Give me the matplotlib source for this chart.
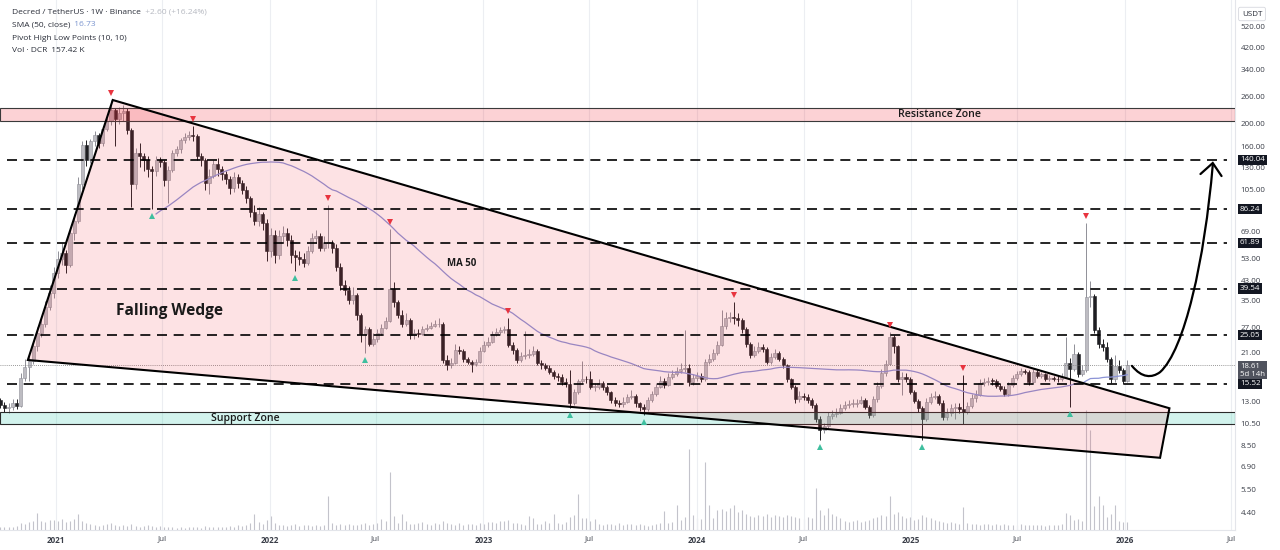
import matplotlib
matplotlib.use("Agg")
import matplotlib.pyplot as plt
import matplotlib.dates as mdates
import matplotlib.transforms as mtransforms
from matplotlib.patches import Polygon, PathPatch
from matplotlib.path import Path
import numpy as np
import pandas as pd

plt.rcParams['font.family'] = ['Open Sans', 'DejaVu Sans']

# ---- weekly DCR/USDT candles ----
# (first 13 weeks sit left of the visible window, they feed the SMA start)
first_week = "2020-07-13"
first_open = 13.0
closes = [
    13.2, 14.0, 15.5, 17.5, 19.0, 17.5, 16.5, 15.0, 14.5, 13.8,
    13.2, 12.6, 12.2,
    12.4, 12.9, 12.5, 16.5, 18.3, 19.4, 22.5, 25.5, 28.0, 33.0,
    38.0, 46.0, 53.0, 56.0, 50.0, 68.0, 77.0, 110, 162, 140,
    168, 178, 165, 190, 205, 228, 210, 222, 226, 188,
    110, 150, 145, 140, 128, 125, 140, 137, 115, 127,
    150, 155, 170, 175, 178, 177, 146, 140, 112, 120,
    135, 128, 122, 116, 106, 118, 112, 104, 96, 84,
    77, 82, 75, 57, 67, 55, 66, 68, 64, 55,
    54, 53, 51, 57, 65, 66, 59, 62, 62, 59,
    49, 41, 39, 35.5, 37, 30.5, 25.2, 26.5, 23, 24,
    25.6, 26.8, 28.8, 39.5, 34.5, 30.5, 28, 29, 25, 25.5,
    25.3, 26.5, 26.8, 27.5, 27.8, 28, 19.6, 18.7, 19, 21.6,
    21.4, 19.8, 19.2, 18.8, 19.3, 21.5, 22.6, 23.5, 25.2, 25.8,
    26.2, 26.5, 22.7, 21.6, 19.6, 20.3, 20.5, 20.8, 21.5, 19.0,
    18.6, 18.2, 17.5, 16.8, 16.6, 15.8, 15.5, 12.8, 14.3, 15.9,
    16.3, 16.2, 15.0, 15.0, 15.7, 15.0, 14.3, 13.2, 12.9, 12.7,
    13.0, 13.6, 13.8, 12.8, 12.3, 12.1, 13.2, 14.0, 15.1, 16.0,
    15.4, 16.6, 17.0, 17.6, 18.0, 18.2, 15.8, 16.4, 16.8, 16.2,
    19.2, 19.8, 21.0, 22.8, 27.5, 29.5, 30.0, 29.5, 29.0, 26.5,
    23.0, 20.6, 21.5, 22.3, 21.8, 19.2, 20.2, 21.0, 19.8, 18.6,
    16.2, 15.1, 13.3, 13.8, 13.6, 13.2, 12.6, 11.0, 9.9, 10.2,
    11.3, 11.5, 11.7, 12.2, 12.6, 12.7, 12.7, 12.9, 13.2, 12.4,
    11.4, 13.3, 15.2, 17.2, 18.9, 24.5, 22.4, 16.2, 16.6, 16.3,
    14.3, 13.1, 12.2, 11.0, 13.0, 13.6, 13.8, 12.9, 11.2, 11.6,
    12.2, 12.3, 12.1, 11.8, 12.5, 13.5, 13.9, 15.6, 15.8, 16.0,
    15.9, 15.2, 14.8, 14.0, 15.3, 16.4, 17.0, 17.6, 17.5, 15.8,
    17.4, 16.8, 17.0, 16.2, 16.4, 16.3, 16.2, 16.6, 19.0, 18.0,
    20.8, 17.0, 17.8, 36.5, 36.8, 26.3, 22.9, 22.3, 19.8, 16.2,
    18.5, 17.8, 16.01, 18.61,
]
highs = [
    13.8, 14.6, 16.2, 18.3, 20.0, 19.5, 17.8, 16.8, 15.6, 14.9,
    14.2, 13.5, 13.0,
    12.8, 13.4, 13.3, 17.2, 19.8, 21.0, 23.5, 27, 30, 35,
    41, 49, 57, 62, 58, 70, 82, 118, 168, 170,
    172, 185, 182, 195, 212, 252, 232, 235, 240, 232,
    192, 158, 165, 150, 146, 132, 146, 144, 140, 132,
    154, 160, 174, 182, 185, 196, 180, 150, 143, 128,
    140, 142, 132, 126, 120, 124, 122, 115, 108, 98,
    90, 88, 84, 78, 72, 70, 70, 73, 72, 67,
    58, 57, 56, 60, 68, 70, 68, 66, 90, 64,
    61, 51, 43, 40.5, 40, 38, 31, 27.5, 27, 25.5,
    26.5, 27.8, 30, 71, 42, 35.5, 32, 31, 29.5, 26.5,
    26.5, 27.5, 28, 28.5, 29, 29.5, 28.5, 20.5, 20, 23,
    22.5, 21.8, 20.2, 19.6, 19.8, 22.2, 23.6, 24.5, 26, 26.8,
    27.2, 27.5, 29.5, 23.5, 22, 21.2, 26, 21.8, 22.5, 21.8,
    19.6, 19.0, 18.6, 17.8, 17.3, 17.0, 16.4, 17.8, 14.8, 16.3,
    19.5, 16.8, 17.6, 15.6, 16.3, 16.0, 15.3, 14.5, 13.6, 13.2,
    13.6, 14.0, 14.6, 14.0, 13.0, 12.7, 13.6, 14.5, 15.6, 16.8,
    16.4, 17.2, 17.8, 18.3, 19.0, 26.3, 18.8, 17.0, 17.5, 17.3,
    19.8, 20.8, 21.8, 23.6, 32.0, 31.5, 31.5, 34.5, 31.0, 29.5,
    27.0, 23.5, 22.4, 23.4, 23.0, 22.2, 21.0, 21.8, 21.4, 20.2,
    18.9, 16.5, 15.4, 14.4, 14.2, 14.0, 13.5, 12.8, 11.3, 10.6,
    11.8, 12.0, 12.2, 12.7, 13.1, 13.2, 13.3, 13.4, 13.7, 13.5,
    12.6, 13.8, 15.8, 17.9, 19.6, 25.7, 25.0, 22.8, 17.4, 17.2,
    16.6, 14.6, 13.4, 12.5, 13.5, 14.2, 14.4, 14.1, 13.2, 12.2,
    12.7, 12.9, 12.8, 16.9, 13.0, 14.0, 14.6, 16.2, 16.4, 16.6,
    16.5, 16.3, 15.6, 15.2, 15.8, 16.9, 17.6, 18.2, 18.0, 17.8,
    17.9, 17.8, 17.5, 17.3, 16.9, 16.8, 16.7, 17.2, 24.5, 20.0,
    23.0, 21.2, 18.6, 75.5, 42.5, 37.5, 27.0, 24.0, 23.5, 20.2,
    20.5, 19.6, 18.2, 19.6,
]
lows = [
    12.6, 13.0, 13.8, 15.3, 17.2, 17.0, 16.0, 14.6, 14.0, 13.3,
    12.8, 12.2, 11.8,
    11.6, 12.0, 12.1, 12.3, 15.9, 16.0, 18.8, 21.5, 24.5, 27,
    32, 36, 44, 50, 46, 49, 64, 75, 105, 132,
    136, 160, 158, 160, 185, 198, 160, 200, 205, 180,
    88, 105, 130, 126, 118, 86, 120, 130, 108, 92,
    124, 146, 150, 165, 170, 168, 140, 132, 104, 100,
    117, 120, 115, 110, 100, 102, 106, 100, 92, 80,
    74, 73, 70, 52, 54, 51, 53, 62, 60, 51,
    47, 50, 49, 50, 56, 62, 57, 57, 59, 56,
    47, 39, 37, 34, 34, 29, 23.5, 21, 22.5, 22.5,
    23.5, 25, 26.5, 28.5, 33, 29.5, 27, 27.5, 24, 24,
    24.5, 25, 26, 26.5, 27, 27, 19, 17.8, 18.2, 18.8,
    20.8, 19.3, 18.8, 17.5, 18.4, 19.0, 21.2, 22.2, 23.2, 24.8,
    25.3, 25.6, 22.2, 20.8, 19, 19.2, 19.8, 19.9, 20.3, 18.6,
    18.0, 17.7, 17.0, 16.3, 16.0, 15.3, 15.0, 12.2, 12.6, 14.0,
    15.6, 15.7, 14.7, 14.5, 14.8, 14.6, 13.9, 12.9, 12.5, 12.3,
    12.4, 12.8, 13.3, 12.4, 11.9, 11.4, 11.9, 13.0, 13.8, 14.9,
    14.9, 15.2, 16.3, 16.7, 17.2, 17.4, 15.2, 15.3, 16.0, 15.8,
    16.0, 18.8, 19.4, 20.6, 22.5, 26.5, 28.5, 27.8, 27.5, 25.5,
    22.2, 20.0, 20.2, 21.0, 21.2, 18.8, 18.9, 19.8, 19.4, 18.2,
    15.8, 14.7, 12.9, 13.0, 13.2, 12.9, 12.2, 10.7, 8.9, 9.6,
    10.0, 11.0, 11.2, 11.5, 12.0, 12.2, 12.3, 12.4, 12.7, 12.1,
    11.1, 11.2, 13.0, 14.9, 16.8, 18.6, 21.0, 15.8, 13.9, 15.8,
    14.0, 12.8, 11.8, 8.9, 10.8, 12.7, 13.3, 12.6, 10.9, 10.9,
    11.3, 11.0, 11.7, 10.5, 11.5, 12.2, 13.0, 13.7, 15.2, 15.4,
    15.4, 14.9, 14.4, 13.7, 13.8, 15.0, 16.1, 16.8, 17.0, 15.4,
    15.6, 16.5, 16.5, 15.9, 15.9, 15.9, 15.8, 15.9, 16.4, 12.4,
    17.6, 16.6, 16.8, 17.4, 33.0, 25.5, 22.0, 21.5, 19.2, 15.6,
    15.8, 17.2, 15.5, 15.8,
]
volume_k = [
    90, 110, 140, 180, 200, 150, 120, 100, 90, 80,
    70, 60, 70,
    60, 70, 90, 150, 130, 160, 180, 340, 190, 170,
    200, 210, 180, 220, 170, 190, 230, 320, 190, 150,
    120, 110, 90, 100, 130, 140, 110, 90, 100, 80,
    120, 80, 70, 90, 100, 90, 70, 80, 60, 70,
    60, 50, 60, 50, 60, 70, 60, 50, 80, 70,
    60, 60, 70, 60, 80, 70, 100, 90, 110, 140,
    320, 160, 120, 200, 280, 150, 110, 100, 90, 100,
    120, 90, 100, 110, 80, 100, 90, 110, 680, 140,
    110, 130, 100, 120, 100, 110, 130, 140, 110, 120,
    150, 220, 180, 1160, 280, 150, 320, 180, 130, 120,
    140, 160, 120, 110, 140, 130, 180, 150, 120, 110,
    140, 100, 120, 130, 110, 150, 130, 170, 160, 150,
    190, 180, 200, 150, 140, 120, 110, 280, 240, 130,
    120, 180, 150, 320, 140, 130, 170, 260, 300, 720,
    240, 250, 190, 230, 120, 110, 130, 120, 110, 140,
    110, 120, 130, 100, 120, 110, 90, 100, 130, 150,
    380, 140, 160, 500, 200, 260, 1620, 300, 240, 220,
    1360, 500, 240, 400, 420, 380, 440, 500, 360, 400,
    320, 280, 260, 300, 280, 320, 260, 300, 280, 260,
    300, 280, 260, 240, 220, 260, 240, 840, 400, 300,
    440, 320, 280, 240, 180, 160, 180, 200, 160, 180,
    200, 240, 260, 300, 280, 680, 320, 360, 280, 240,
    260, 200, 220, 300, 260, 240, 200, 180, 160, 140,
    160, 140, 120, 460, 140, 120, 130, 110, 120, 130,
    110, 120, 100, 120, 110, 100, 110, 120, 100, 110,
    100, 110, 100, 90, 110, 100, 100, 120, 340, 300,
    200, 220, 180, 2400, 2000, 480, 680, 500, 260, 320,
    500, 180, 160, 157.42,
]

pivot_high_idx = [38, 58, 91, 106, 135, 190, 228, 246, 276]
pivot_low_idx = [48, 83, 100, 150, 168, 211, 236, 272]

# ---- drawings ----
key_levels = [140.04, 86.24, 61.89, 39.54, 25.05, 15.52]
resistance_zone = (205.0, 233.0)
support_zone = (10.45, 11.76)
wedge_dates = ["2020-11-14", "2021-04-08", "2026-03-18", "2026-03-02"]
wedge_prices = [19.6, 252.0, 12.2, 7.5]
arrow_dates = ["2026-01-13", "2026-01-30", "2026-02-16", "2026-03-02",
               "2026-04-13", "2026-05-17", "2026-05-31"]
arrow_prices = [18.5, 16.4, 16.4, 17.4, 21.6, 52.3, 133.0]
head_dates = ["2026-05-10", "2026-05-31", "2026-06-15"]
head_prices = [121.8, 135.7, 119.4]

# scale labels left visible by the price tags
price_ticks = [520, 420, 340, 260, 200, 160, 130, 105, 69, 53, 43,
               35, 27, 21, 13, 10.5, 8.5, 6.9, 5.5, 4.4]
last_close = 18.61
sma_last = 16.73

UP_BODY, UP_EDGE, DOWN = "#bdbcc2", "#8f8f97", "#1e1e22"
TXT = "#2a2e39"

# ---------------------------------------------------------------
fig = plt.figure(figsize=(12.8, 5.5), dpi=100)
ax = fig.add_axes([0, 1 - 530 / 550, 1235 / 1280, 530 / 550])
ax.set_yscale("log")

dates = pd.date_range(first_week, periods=len(closes), freq="7D")
x = mdates.date2num(dates)
c = np.array(closes, dtype=float)
o = np.r_[first_open, c[:-1]]
h = np.array(highs, dtype=float)
lo = np.array(lows, dtype=float)
up = c >= o
b_lo = np.minimum(o, c)
b_hi = np.maximum(np.maximum(o, c), b_lo * 1.008)

# volume overlay behind the price pane
axv = ax.twinx()
axv.set_zorder(ax.get_zorder() - 1)
ax.patch.set_visible(False)
axv.vlines(x, 0, volume_k, color="#c3c3cb", lw=0.8)
axv.set_ylim(0, 530 * 20)
axv.set_yticks([])
for s in axv.spines.values():
    s.set_visible(False)

# candles
ax.vlines(x[up], lo[up], h[up], color=UP_EDGE, lw=0.7, zorder=2)
ax.vlines(x[~up], lo[~up], h[~up], color=DOWN, lw=0.7, zorder=2)
ax.bar(x[up], b_hi[up] - b_lo[up], bottom=b_lo[up], width=5.2,
       color=UP_BODY, edgecolor=UP_EDGE, lw=0.4, zorder=2.1)
ax.bar(x[~up], b_hi[~up] - b_lo[~up], bottom=b_lo[~up], width=5.2,
       color=DOWN, edgecolor=DOWN, lw=0.4, zorder=2.1)

# SMA 50
sma = pd.Series(c).rolling(50).mean()
ax.plot(x, sma, color="#8b93d6", lw=0.9, zorder=3)

# pivots
off_up = mtransforms.offset_copy(ax.transData, fig=fig, y=5, units="points")
off_dn = mtransforms.offset_copy(ax.transData, fig=fig, y=-5, units="points")
ax.plot(x[pivot_high_idx], h[pivot_high_idx], "v", color="#e8343f", ms=4.8,
        transform=off_up, zorder=6, mew=0)
ax.plot(x[pivot_low_idx], lo[pivot_low_idx], "^", color="#3fbf9f", ms=4.8,
        transform=off_dn, zorder=6, mew=0)

# zones
ax.axhspan(*resistance_zone, facecolor=(0.95, 0.2, 0.25, 0.22),
           edgecolor="#3a3a3a", lw=0.8, zorder=4)
ax.axhspan(*support_zone, facecolor=(0.2, 0.8, 0.68, 0.22),
           edgecolor="#2a2a2a", lw=0.8, zorder=4)

# falling wedge
wx = mdates.date2num(pd.to_datetime(wedge_dates))
wedge = Polygon(np.c_[wx, wedge_prices], closed=True,
                facecolor=(0.95, 0.21, 0.27, 0.14), edgecolor="black",
                lw=1.5, zorder=4.5)
ax.add_patch(wedge)

# key horizontal levels
lx0, lx1 = mdates.date2num(pd.to_datetime(["2020-10-09", "2026-06-25"]))
for lv in key_levels:
    ax.plot([lx0, lx1], [lv, lv], color="black", lw=1.2,
            ls=(0, (6, 4)), zorder=5)
ax.axhline(last_close, color="#777777", lw=0.6, ls=(0, (1, 1.5)), zorder=4)

# projected path arrow
adx = mdates.date2num(pd.to_datetime(arrow_dates))
verts = list(zip(adx, arrow_prices))
codes = [Path.MOVETO, Path.CURVE4, Path.CURVE4, Path.CURVE4,
         Path.CURVE4, Path.CURVE4, Path.CURVE4]
ax.add_patch(PathPatch(Path(verts, codes), fill=False, lw=1.6,
                       edgecolor="black", zorder=6, capstyle="round"))
hx = mdates.date2num(pd.to_datetime(head_dates))
ax.plot(hx, head_prices, color="black", lw=1.6, zorder=6,
        solid_joinstyle="miter", solid_capstyle="round")


def dn(s):
    return mdates.date2num(pd.Timestamp(s))


# labels on chart
ax.text(dn("2021-07-14"), 31.7, "Falling Wedge", fontsize=11.2, weight="bold",
        color="#1a1a1a", ha="center", va="center", zorder=7)
ax.text(dn("2022-11-25"), 50.8, "MA 50", fontsize=6.9, weight="bold",
        color="#1a1a1a", ha="center", va="center", zorder=7)
ax.text(dn("2025-02-18"), 219, "Resistance Zone", fontsize=7.7,
        weight="semibold", color="#1a1a1a", ha="center", va="center", zorder=7)
ax.text(dn("2021-11-21"), 11.08, "Support Zone", fontsize=7.6,
        weight="semibold", color="#1a1a1a", ha="center", va="center", zorder=7)

# axes / scales
ax.set_xlim(pd.Timestamp("2020-09-27 10:00"), pd.Timestamp("2026-07-08"))
ax.set_ylim(3.69, 673)
ax.yaxis.tick_right()
ax.set_yticks(price_ticks)
ax.set_yticklabels([f"{t:.2f}" for t in price_ticks])
ax.yaxis.set_minor_locator(matplotlib.ticker.NullLocator())
ax.tick_params(axis="y", length=0, pad=4, labelsize=5.8, labelcolor="#3a3e48")

xt = []
xl = []
for yr in range(2021, 2027):
    xt += [pd.Timestamp(f"{yr}-01-01"), pd.Timestamp(f"{yr}-07-01")]
    xl += [str(yr), "Jul"]
ax.set_xticks(mdates.date2num(xt))
ax.set_xticklabels(xl)
for lab in ax.get_xticklabels():
    if lab.get_text() != "Jul":
        lab.set_fontweight("bold")
ax.tick_params(axis="x", length=0, pad=4, labelsize=5.8, labelcolor="#3a3e48")
ax.grid(axis="x", color="#eceef2", lw=0.8)
ax.set_axisbelow(True)
for side in ["top", "left"]:
    ax.spines[side].set_visible(False)
for side in ["right", "bottom"]:
    ax.spines[side].set_color("#e3e5ea")
    ax.spines[side].set_linewidth(0.8)

# price-scale tags
btr = mtransforms.blended_transform_factory(ax.transAxes, ax.transData)
tag_x = 1240 / 1235
for lv in key_levels:
    ax.text(tag_x, lv, f"{lv:.2f}", transform=btr, fontsize=5.8, color="white",
            ha="left", va="center", clip_on=False, zorder=10,
            bbox=dict(boxstyle="square,pad=0.22", fc="#131722", ec="none"))
ax.text(tag_x, 19.03, f"{last_close:.2f}\n5d 14h", transform=btr,
        fontsize=5.6, color="white", ha="left", va="top", clip_on=False,
        zorder=10, linespacing=1.1,
        bbox=dict(boxstyle="square,pad=0.22", fc="#50535e", ec="none"))
fig.text(1252 / 1280, 1 - 14 / 550, "USDT", fontsize=5.8, color=TXT,
         ha="center", va="center",
         bbox=dict(boxstyle="round,pad=0.4,rounding_size=0.2", fc="white",
                   ec="#d6d8de", lw=0.6))

# legend block
fs = 6.0
t1 = fig.text(12 / 1280, 1 - 12 / 550, "Decred / TetherUS · 1W · Binance",
              fontsize=fs, color=TXT, va="center")
ax.annotate("  +2.60 (+16.24%)", xy=(1, 0.5), xycoords=t1, va="center",
            fontsize=fs, color="#b5b8c0", annotation_clip=False)
t2 = fig.text(12 / 1280, 1 - 25 / 550, "SMA (50, close)", fontsize=fs,
              color=TXT, va="center")
ax.annotate(f"  {sma_last:.2f}", xy=(1, 0.5), xycoords=t2, va="center",
            fontsize=fs, color="#7b95cf", annotation_clip=False)
fig.text(12 / 1280, 1 - 38 / 550, "Pivot High Low Points (10, 10)",
         fontsize=fs, color=TXT, va="center")
t4 = fig.text(12 / 1280, 1 - 51 / 550, "Vol · DCR", fontsize=fs, color=TXT,
              va="center")
ax.annotate(f"  {volume_k[-1]:.2f} K", xy=(1, 0.5), xycoords=t4, va="center",
            fontsize=fs, color=TXT, annotation_clip=False)

fig.savefig("out.png", dpi=100)
